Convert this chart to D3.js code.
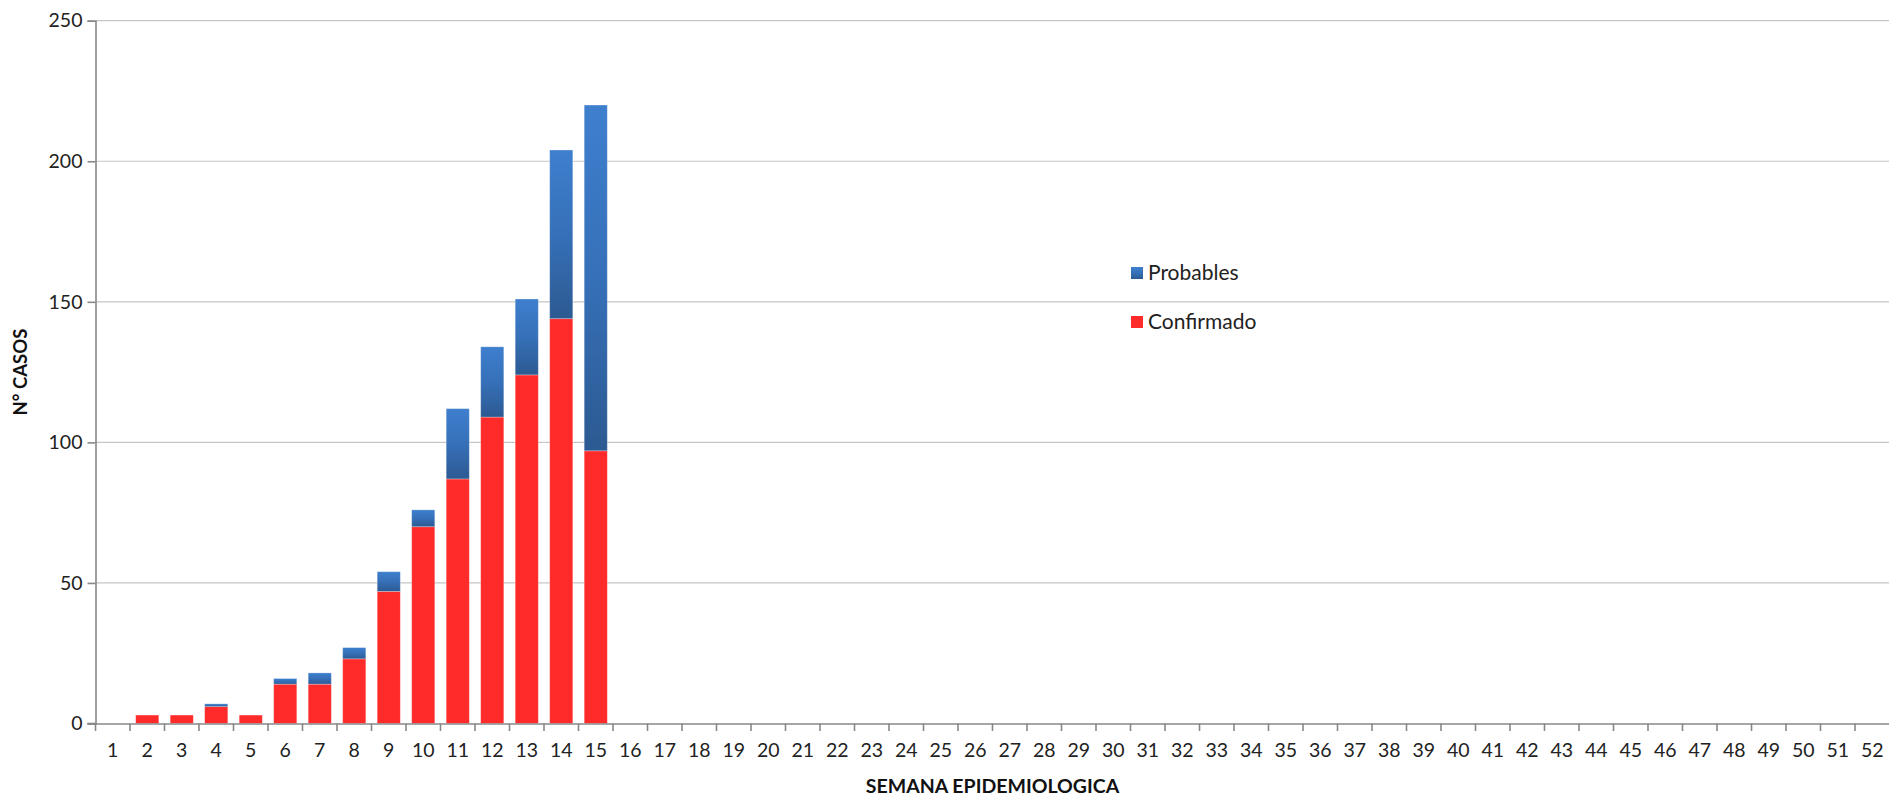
<!DOCTYPE html>
<html>
<head>
<meta charset="utf-8">
<script src="https://cdn.jsdelivr.net/npm/d3@7"></script>
<style>
  html, body { margin: 0; padding: 0; background: #ffffff; }
  svg { display: block; font-family: Lato, "Open Sans", sans-serif; }
</style>
</head>
<body>
<svg id="chart" width="1889" height="796"></svg>
<script>
// ---- data ----
const weeks = d3.range(1, 53).map(String);
const confirmado = [0, 3, 3, 6, 3, 14, 14, 23, 47, 70, 87, 109, 124, 144, 97];
const probables  = [0, 0, 0, 1, 0, 2, 4, 4, 7, 6, 25, 25, 27, 60, 123];
const yTicks = [0, 50, 100, 150, 200, 250];
const seriesNames = ["Confirmado", "Probables"];
const legendOrder = ["Probables", "Confirmado"];
const xTitle = "SEMANA EPIDEMIOLOGICA";
const yTitle = "N° CASOS";

// ---- table built from the arrays ----
const rows = weeks.map((w, i) => ({
  week: w,
  Confirmado: confirmado[i] || 0,
  Probables: probables[i] || 0
}));

const svg = d3.select("#chart");
const pLeft = 95.5, pRight = 1889.5, pTop = 20.7, pBottom = 723.5;

const x = d3.scaleBand().domain(weeks).range([pLeft, pRight])
  .paddingInner(0.33).paddingOuter(0.165);
const y = d3.scaleLinear().domain([0, 250]).range([pBottom, pTop]);

// gradients
const defs = svg.append("defs");
const gBlue = defs.append("linearGradient").attr("id", "gBlue")
  .attr("x1", 0).attr("y1", 0).attr("x2", 0).attr("y2", 1);
gBlue.append("stop").attr("offset", "0%").attr("stop-color", "#3e7fce");
gBlue.append("stop").attr("offset", "50%").attr("stop-color", "#3670b8");
gBlue.append("stop").attr("offset", "100%").attr("stop-color", "#2c5a92");
const fills = { Confirmado: "#ff2a2a", Probables: "url(#gBlue)" };

// gridlines
svg.append("g").selectAll("line").data(yTicks.filter(d => d > 0)).join("line")
  .attr("x1", pLeft).attr("x2", pRight)
  .attr("y1", d => y(d)).attr("y2", d => y(d))
  .attr("stroke", "#c6c6c6").attr("stroke-width", 1.2);

// bars
const stacked = d3.stack().keys(seriesNames)(rows);
svg.append("g").selectAll("g").data(stacked).join("g")
  .attr("fill", d => fills[d.key])
  .selectAll("rect").data(d => d.filter(p => p[1] - p[0] > 0)).join("rect")
  .attr("x", d => x(d.data.week))
  .attr("width", x.bandwidth())
  .attr("y", d => y(d[1]))
  .attr("height", d => y(d[0]) - y(d[1]))
  .attr("stroke", "rgba(255,255,255,0.35)").attr("stroke-width", 0.8);

// y axis
const yAxis = svg.append("g").attr("transform", `translate(${pLeft},0)`)
  .call(d3.axisLeft(y).tickValues(yTicks).tickSize(8).tickPadding(5));
yAxis.select(".domain").attr("stroke", "#888888").attr("stroke-width", 1.6);
yAxis.selectAll(".tick line").attr("stroke", "#888888").attr("stroke-width", 1.6);
yAxis.selectAll(".tick text").attr("font-size", "19.5px").attr("fill", "#222")
  .attr("font-family", "Lato, sans-serif");

// x axis
const xAxis = svg.append("g").attr("transform", `translate(0,${pBottom})`)
  .call(d3.axisBottom(x).tickSize(0).tickPadding(20));
xAxis.select(".domain").attr("stroke", "#888888").attr("stroke-width", 1.6);
xAxis.selectAll(".tick text").attr("font-size", "19.5px").attr("fill", "#222")
  .attr("font-family", "Lato, sans-serif");
// ticks between categories
const step = x.step();
svg.append("g").selectAll("line").data(weeks).join("line")
  .attr("x1", d => x(d) - step * 0.165).attr("x2", d => x(d) - step * 0.165)
  .attr("y1", pBottom).attr("y2", pBottom + 7.5)
  .attr("stroke", "#888888").attr("stroke-width", 1.6);
svg.append("line").attr("x1", pLeft - 8).attr("x2", pLeft)
  .attr("y1", pBottom).attr("y2", pBottom)
  .attr("stroke", "#888888").attr("stroke-width", 1.6);

// axis titles
svg.append("text").attr("x", (pLeft + pRight) / 2).attr("y", 793)
  .attr("text-anchor", "middle").attr("font-weight", "bold")
  .attr("font-size", "19.5px").attr("fill", "#111").text(xTitle);
svg.append("text").attr("transform", `translate(27,${(pTop + pBottom) / 2}) rotate(-90)`)
  .attr("text-anchor", "middle").attr("font-weight", "bold")
  .attr("font-size", "18.5px").attr("fill", "#111").text(yTitle);

// legend
const legend = svg.append("g").attr("transform", "translate(1131,267)");
legendOrder.forEach((name, i) => {
  const g = legend.append("g").attr("transform", `translate(0,${i * 49})`);
  g.append("rect").attr("width", 12).attr("height", 12).attr("fill", fills[name]);
  g.append("text").attr("x", 17).attr("y", 13).attr("font-size", "21px")
    .attr("fill", "#222").text(name);
});
</script>
</body>
</html>
